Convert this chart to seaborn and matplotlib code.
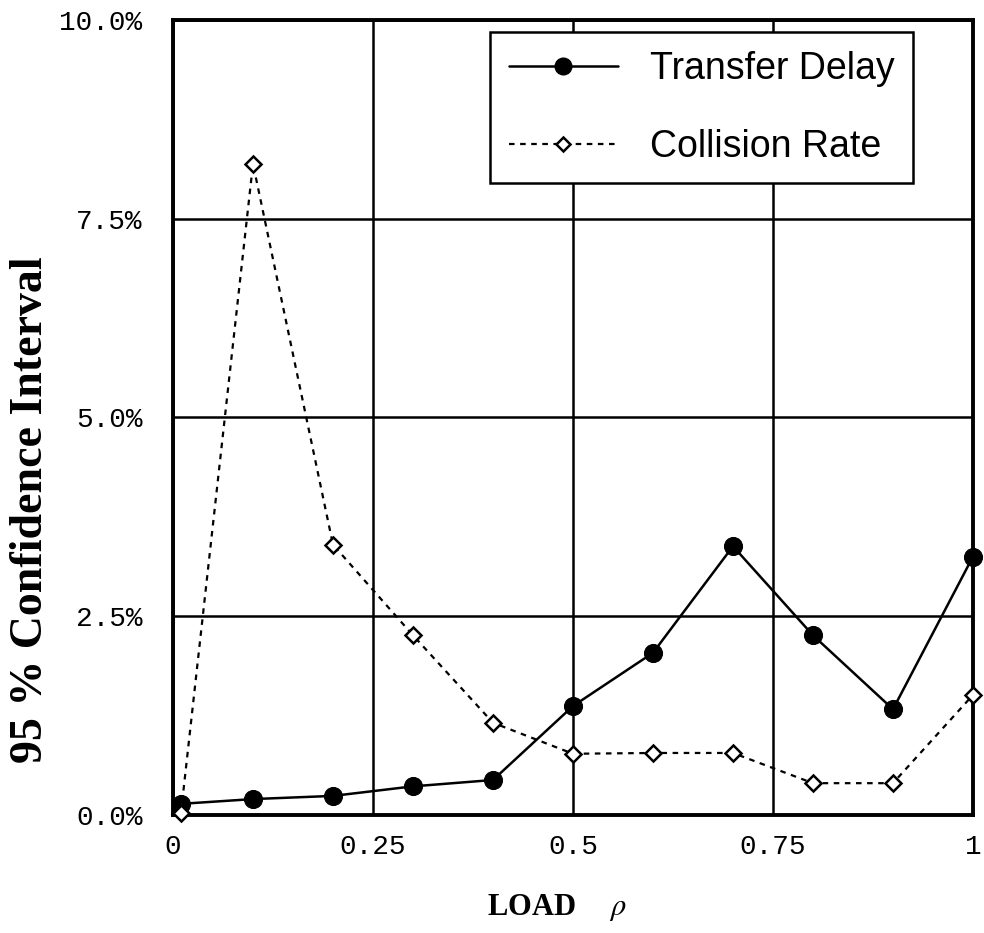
import numpy as np
import pandas as pd
import matplotlib
matplotlib.use('Agg')
import matplotlib.pyplot as plt
from matplotlib.lines import Line2D
from matplotlib.ticker import FuncFormatter
import seaborn as sns

# data
load = [0.01, 0.1, 0.2, 0.3, 0.4, 0.5, 0.6, 0.7, 0.8, 0.9, 1.0]
transfer_delay = [0.14, 0.20, 0.24, 0.36, 0.44, 1.37, 2.04, 3.38, 2.26, 1.33, 3.25]
collision_rate = [0.03, 8.19, 3.40, 2.26, 1.16, 0.77, 0.78, 0.78, 0.40, 0.40, 1.51]
x_ticks = [0, 0.25, 0.5, 0.75, 1]
x_tick_labels = ['0', '0.25', '0.5', '0.75', '1']
y_ticks = [0, 2.5, 5.0, 7.5, 10.0]

sns.set_style('white')
plt.rcParams['mathtext.fontset'] = 'stix'
plt.rcParams['text.color'] = 'black'

fig = plt.figure(figsize=(9.84, 9.33), dpi=100)
ax = fig.add_axes([0.1758, 0.1265, 0.8130, 0.8521])

sns.lineplot(x=load, y=transfer_delay, ax=ax, color='black', linewidth=1.8,
             marker='o', markersize=13, markerfacecolor='black',
             markeredgecolor='black', clip_on=False, zorder=4)
sns.lineplot(x=load, y=collision_rate, ax=ax, color='black', linewidth=1.6,
             linestyle=(0, (2.5, 2.5)), marker='D', markersize=8.5,
             markerfacecolor='white', markeredgecolor='black',
             markeredgewidth=1.8, clip_on=False, zorder=4)

ax.set_xlim(0, 1)
ax.set_ylim(0, 10)
ax.set_xticks(x_ticks)
ax.set_xticklabels(x_tick_labels)
ax.set_yticks(y_ticks)
ax.yaxis.set_major_formatter(FuncFormatter(lambda v, p: f'{v:.1f}%'))
ax.tick_params(length=0, labelsize=20, labelcolor='black')
ax.tick_params(axis='x', pad=14)
ax.tick_params(axis='y', pad=22)
for lab in ax.get_xticklabels() + ax.get_yticklabels():
    lab.set_family('Liberation Mono')

ax.grid(True, color='black', linewidth=1.8)
ax.set_axisbelow(True)
for s in ax.spines.values():
    s.set_linewidth(2.8)
    s.set_color('black')

ax.set_xlabel(r'LOAD $\quad\;\mathit{\rho}$', fontfamily='Liberation Serif',
              fontweight='bold', fontsize=22, color='black')
ax.xaxis.set_label_coords(0.48, -0.097)
ax.set_ylabel('95 % Confidence Interval', fontfamily='Liberation Serif',
              fontweight='bold', fontsize=33, color='black')
ax.yaxis.set_label_coords(-0.151, 0.384)

handles = [
    Line2D([], [], color='black', linewidth=1.8, marker='o', markersize=12,
           markerfacecolor='black'),
    Line2D([], [], color='black', linewidth=1.6, linestyle=(0, (2.5, 2.5)),
           marker='D', markersize=7, markerfacecolor='white', markeredgewidth=1.8),
]
leg = ax.legend(handles, ['Transfer Delay', 'Collision Rate'], loc='upper right',
                bbox_to_anchor=(0.925, 0.985), borderaxespad=0, fancybox=False,
                framealpha=1, edgecolor='black', handlelength=2.9,
                handletextpad=0.85, labelspacing=1.12, borderpad=0.5,
                prop={'family': 'Liberation Sans', 'size': 27})
leg.get_frame().set_linewidth(1.8)
leg.set_zorder(5)
for t in leg.get_texts():
    t.set_color('black')

fig.savefig('out.png', dpi=100)
